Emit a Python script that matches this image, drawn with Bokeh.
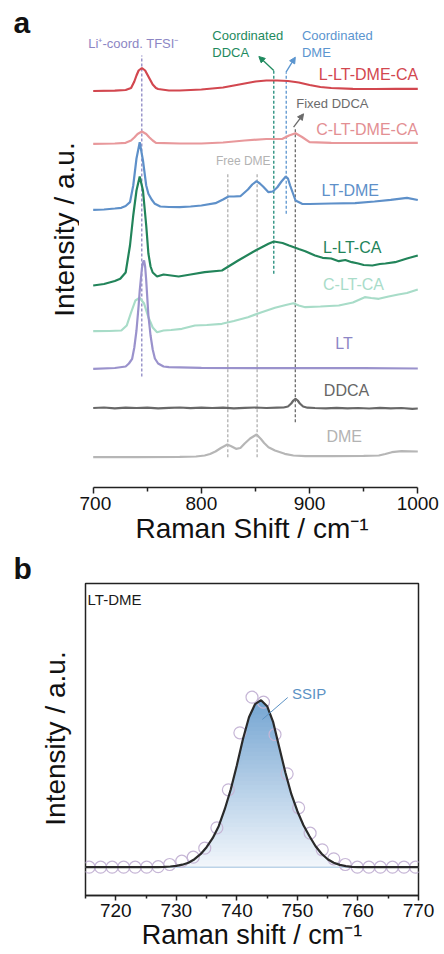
import numpy as np
from bokeh.plotting import figure
from bokeh.models import Range1d, FixedTicker, Label, Arrow, NormalHead, ColumnDataSource
from bokeh.layouts import column, row
from bokeh.core.properties import value
from bokeh.embed import file_html
from bokeh.resources import INLINE

FONT = "Liberation Sans"

# ---------------- panel a : Raman spectra (intensity, a.u.) ----------------
red_x = [700, 720, 730, 735, 738, 740, 742, 745, 748, 750, 753, 755, 758, 760, 770, 780, 800, 820, 840, 850,
         860, 870, 880, 890, 900, 910, 920, 940, 960, 980, 1000]
red_y = [0, 0.3, 1, 3, 9.5, 15.5, 20.5, 23, 20.5, 16.5, 10.5, 6.5, 3, 2, 0.5, 0.5, 1.5, 3.5, 7.5, 9.5,
         10.5, 10.5, 10, 8.5, 6, 4, 3, 2.2, 2, 2.2, 2.2]

pink_x = [700, 720, 730, 735, 738, 741, 745, 749, 752, 755, 758, 780, 800, 820, 840, 860, 875, 881, 887, 893,
          900, 920, 950, 1000]
pink_y = [0, 0.3, 1, 3.3, 6.3, 9.8, 12.3, 9.8, 6.3, 3.3, 1, 0.3, 0.3, 1.3, 3.3, 4.8, 5, 8.3, 10.6, 6.8,
          1.6, 1, 0.8, 1]

blue_x = [700, 710, 720, 726, 730, 734, 737, 740, 743, 746, 749, 751, 754, 757, 762, 770, 780, 790, 800, 813,
          820, 825, 830, 836, 843, 847, 851, 854, 857, 862, 866, 870, 874, 878, 880, 882, 885, 887, 893, 900,
          920, 942, 960, 975, 990, 1000]
blue_y = [0, 0.3, 1.3, 2, 3.8, 7.6, 24.3, 51.3, 67.6, 49.3, 24.3, 16, 10.3, 6, 3.3, 2.8, 2.6, 3.3, 4.3, 6.6,
          10.3, 13.3, 13.3, 13.6, 20.3, 25.3, 28.6, 26.3, 23.3, 17.6, 18.3, 22.3, 28.3, 33.3, 31.3, 24.3, 15.3,
          9.3, 6, 5.8, 6.3, 6.6, 8.3, 10, 12, 9.8]

green_x = [700, 710, 715, 720, 725, 730, 734, 737, 740, 743, 746, 749, 751, 753, 755, 759, 765, 772, 779, 790,
           803, 819, 834, 850, 862, 867, 875, 881, 890, 896, 905, 912, 920, 927, 933, 939, 945, 950, 958, 965,
           970, 979, 990, 1000]
green_y = [0, 1.5, 3, 4.5, 6.7, 13, 40, 70, 95, 109, 95, 60, 32, 19, 13, 9, 11, 10, 9, 11,
           13.3, 15, 25, 35, 41.7, 44, 42.5, 40, 36.5, 34.3, 30, 27.7, 27, 24.3, 25.5, 23.3, 22, 20.5, 20, 21.5,
           22, 23.3, 27, 30]

teal_x = [700, 715, 726, 731, 735, 739, 743, 747, 751, 755, 759, 765, 772, 782, 794, 805, 819, 830, 843, 855,
          868, 878, 885, 890, 896, 910, 927, 940, 951, 957, 964, 973, 982, 990, 1000]
teal_y = [0, 0.2, 0.7, 5.7, 18.7, 30.7, 33.4, 27.7, 14, 3.7, -1, 0.7, 1.2, 2.4, 5.7, 6.2, 7.4, 10.2, 14, 18.7,
          23.4, 26.2, 28, 25.7, 24, 24.7, 25.7, 28.7, 34, 33.2, 32.4, 34.7, 36.7, 38.2, 41.7]

lt_x = [700, 720, 730, 733, 736, 738, 740, 742, 743, 745, 746, 747, 748, 749, 751, 753, 755, 757, 760, 765,
        770, 800, 850, 900, 950, 1000]
lt_y = [0, 0.8, 2.3, 5.3, 10, 21.3, 38.3, 63.3, 78.3, 100.3, 106.3, 108.3, 102.3, 88.3, 53.3, 33.3, 19.3, 10.3,
        5.3, 2.3, 1.6, 1, 0.6, 0.6, 0.6, 0.3]

ddca_x = [700, 710, 720, 730, 740, 750, 760, 770, 780, 790, 800, 810, 820, 830, 840, 850, 860, 870, 876, 880,
          883, 885, 887, 889, 891, 894, 898, 905, 915, 925, 935, 945, 955, 965, 975, 985, 995, 1000]
ddca_y = [0, 0.5, -0.3, 0.4, 0, 0.3, -0.4, 0.2, 0.5, -0.2, 0.3, 0, 0.4, -0.3, 0.2, 0.5, 0, 0.3, 0.5, 1.5,
          4.5, 7.5, 9.2, 7.5, 4.5, 1.5, 0.3, 0, -0.4, 0.2, -0.3, 0, -0.5, 0.2, -0.3, 0, -0.8, -0.5]

dme_x = [700, 740, 780, 795, 803, 808, 813, 818, 824, 828, 832, 836, 840, 845, 851, 855, 858, 862, 868, 877,
         885, 896, 920, 950, 964, 970, 976, 985, 1000]
dme_y = [0, 0, 0.4, 0.7, 1.7, 3.2, 5.7, 9.2, 12.7, 10.7, 8.4, 9.2, 13.7, 18.7, 22.7, 18.2, 14.2, 10, 6.7, 3.4,
         1.7, 1, 1, 1.4, 1.7, 3.2, 5, 6, 5.7]

sample_names = ["L-LT-DME-CA", "C-LT-DME-CA", "LT-DME", "L-LT-CA", "C-LT-CA", "LT", "DDCA", "DME"]
stack_offsets = [396.5, 343.7, 277.7, 202, 156.3, 118.7, 79.5, 30.3]

# peak markers (cm-1) used for dashed guide lines
peak_pos = [744.9, 824.4, 851.5, 886.8, 866.9, 878.4]

# ---------------- panel b : LT-DME fit ----------------
b_exp_x = [715.6, 717.5, 719.4, 721.3, 723.2, 725.1, 727.0, 728.9, 730.9, 732.8, 734.7, 736.7, 738.6, 740.5,
           742.5, 744.4, 746.3, 748.3, 750.2, 752.1, 754.1, 756.0, 757.9, 759.9, 761.8, 763.7, 765.7, 767.6, 769.5]
b_exp_y = [0, 0, 0, 0, 0, 0, 0.5, 2.7, 6, 10, 19, 39.4, 77.4, 134.4,
           170, 165, 132.7, 93.4, 59.4, 34, 17.4, 8.4, 2.7, 0, 0, 0, 0, 0, 0]

b_fit_x = list(range(715, 771))
b_fit_y = [0, 0, 0, 0, 0, 0, 0, 0, 0, 0, 0, 0, 0,          # 715-727
           0.3, 0.7, 1.3, 2.5, 4.5, 8, 13, 20, 29, 41,      # 728-737
           58, 78, 102, 128, 150, 163, 167, 161, 145, 120,  # 738-747
           95, 73, 56, 42, 31, 21, 13.5, 8, 4.5, 2.3,       # 748-757
           1, 0.4, 0.1, 0, 0, 0, 0, 0, 0, 0, 0, 0, 0]       # 758-770

# ---------------- colours ----------------
line_colors = ["#d2474f", "#e8989b", "#5e90c9", "#22845a", "#a8dcc8", "#9a92cc", "#686868", "#b6b6b6"]
label_colors = ["#d2474f", "#e38f93", "#5e90c9", "#22845a", "#a9dcc9", "#8d86c6", "#666666", "#b3b3b3"]


def lab(p, x, y, text, color, size, align="center", style="normal"):
    p.add_layout(Label(x=x, y=y, text=text, text_color=color, text_font=FONT,
                       text_font_size=f"{size}px", text_align=align, text_baseline="middle",
                       text_font_style=style))


def style_xaxis(ax, ticks, minor, title, title_size, tick_out):
    ax.ticker = FixedTicker(ticks=ticks, minor_ticks=minor)
    ax.major_tick_in = 0
    ax.major_tick_out = tick_out
    ax.minor_tick_in = 0
    ax.minor_tick_out = tick_out - 2
    ax.axis_line_width = 1.5
    ax.axis_line_color = "#222222"
    ax.major_tick_line_width = 1.5
    ax.minor_tick_line_width = 1.5
    ax.major_tick_line_color = "#222222"
    ax.minor_tick_line_color = "#222222"
    ax.major_label_text_font = FONT
    ax.major_label_text_font_size = "19px"
    ax.major_label_text_color = "#111111"
    ax.major_label_standoff = 3
    ax.axis_label = title
    ax.axis_label_text_font = FONT
    ax.axis_label_text_font_size = f"{title_size}px"
    ax.axis_label_text_font_style = "normal"
    ax.axis_label_text_color = "#111111"
    ax.axis_label_standoff = 0


# ======================= left strip (panel letters + y titles) =======================
# frame spans 5..932 px, so data y = 954 - page y
sl = figure(width=79, height=954, x_range=Range1d(0, 79), y_range=Range1d(22, 949),
            output_backend="svg", toolbar_location=None, min_border=0,
            min_border_left=0, min_border_right=0, min_border_top=5, min_border_bottom=22)
sl.axis.visible = False
sl.grid.visible = False
sl.outline_line_color = None
sl.text(x=[13, 13], y=[932, 386], text=["a", "b"], text_font=value(FONT), text_font_size="30px",
        text_font_style="bold", text_color="#111111", text_align="left", text_baseline="middle")
sl.text(x=[63.5, 55], y=[725, 216], text=["Intensity / a.u.", "Intensity / a.u."], angle=np.pi / 2,
        text_font=value(FONT), text_font_size="28px", text_color="#111111",
        text_align="center", text_baseline="middle")

# ======================= figure a =======================
p1 = figure(width=365, height=560, x_range=Range1d(692.88, 1000.65), y_range=Range1d(0, 482),
            output_backend="svg", toolbar_location=None,
            min_border_left=6, min_border_right=26, min_border_top=5, min_border_bottom=73)
p1.outline_line_color = None
p1.grid.visible = False
p1.yaxis.visible = False

xs_all = [red_x, pink_x, blue_x, green_x, teal_x, lt_x, ddca_x, dme_x]
ys_all = [red_y, pink_y, blue_y, green_y, teal_y, lt_y, ddca_y, dme_y]

guide = ColumnDataSource(dict(
    x=peak_pos,
    y0=[111, 30.3, 30.3, 65.3, 213.7, 273.7],
    y1=[432, 315.3, 315.3, 360.3, 417, 415.3],
    c=["#8c86c4", "#b0b0b0", "#b0b0b0", "#6b6b6b", "#1d8a78", "#5b95cf"],
))
p1.segment(x0="x", y0="y0", x1="x", y1="y1", source=guide, line_color="c",
           line_width=1.3, line_dash="3 2")

for xs, ys, off, col in zip(xs_all, ys_all, stack_offsets, line_colors):
    p1.line(np.array(xs), np.array(ys) + off, line_color=col, line_width=2.2)

lab(p1, 1000.3, 413, sample_names[0], label_colors[0], 16, "right")
lab(p1, 1000.3, 357.7, sample_names[1], label_colors[1], 16, "right")
lab(p1, 937.6, 297, sample_names[2], label_colors[2], 16)
lab(p1, 939.4, 240.3, sample_names[3], label_colors[3], 16)
lab(p1, 940.6, 203, sample_names[4], label_colors[4], 16)
lab(p1, 931.8, 144.5, sample_names[5], label_colors[5], 16)
lab(p1, 934.1, 97, sample_names[6], label_colors[6], 16)
lab(p1, 932, 51.2, sample_names[7], label_colors[7], 16)

lab(p1, 737.2, 443.7, "Li\u207a-coord. TFSI\u207b", "#8c86c4", 13)
lab(p1, 810.1, 452, "Coordinated", "#1e8a5e", 13, "left")
lab(p1, 810.1, 435.3, "DDCA", "#1e8a5e", 13, "left")
lab(p1, 892.9, 452, "Coordinated", "#5b95cf", 13, "left")
lab(p1, 892.9, 435.3, "DME", "#5b95cf", 13, "left")
lab(p1, 887.7, 384, "Fixed DDCA", "#6b6b6b", 13, "left")
lab(p1, 838.7, 327, "Free DME", "#b3b3b3", 12)

for (xs_, ys_, xe, ye, c) in [(866.9, 417, 853.1, 431, "#1e8a5e"),
                              (878.2, 415.3, 886.8, 430.3, "#5b95cf"),
                              (885.2, 360.3, 894.4, 373.7, "#6b6b6b")]:
    p1.add_layout(Arrow(end=NormalHead(size=6, fill_color=c, line_color=c, line_width=1),
                        x_start=xs_, y_start=ys_, x_end=xe, y_end=ye,
                        line_color=c, line_width=1.3))

style_xaxis(p1.xaxis[0], [700, 800, 900, 1000], [750, 850, 950], "Raman Shift / cm\u207b\u00b9", 28, 6)
p1.xaxis[0].bounds = (700, 1000)

# ======================= figure b =======================
p2 = figure(width=365, height=394, x_range=Range1d(715, 770), y_range=Range1d(-28.3, 283.7),
            output_backend="svg", toolbar_location=None,
            min_border_left=1, min_border_right=21, min_border_top=23, min_border_bottom=59)
p2.grid.visible = False
p2.yaxis.visible = False
p2.outline_line_color = "#222222"
p2.outline_line_width = 1.5

fx = np.array(b_fit_x, dtype=float)
fy = np.array(b_fit_y, dtype=float)
peak = fy.max()
nb = 40
c_lo = np.array([244, 248, 252])
c_hi = np.array([118, 166, 211])
for k in range(nb):
    lo = peak * k / nb
    hi = peak * (k + 1) / nb
    t = (k + 0.5) / nb
    rgb = (c_lo + (c_hi - c_lo) * t).astype(int)
    col = "#%02x%02x%02x" % tuple(rgb)
    p2.varea(x=fx, y1=np.minimum(fy, max(lo - 1.5, 0)), y2=np.minimum(fy, hi),
             fill_color=col, fill_alpha=1.0)

p2.line(fx, np.zeros_like(fx), line_color="#bcd3e8", line_width=1.5)
p2.scatter(b_exp_x, b_exp_y, marker="circle", size=12, fill_color=None,
           line_color="#c6b6d6", line_width=1.2)
p2.line(fx, fy, line_color="#2a2a2a", line_width=2.2)

p2.segment(x0=[744.2], y0=[147.7], x1=[748.4], y1=[169.7], line_color="#5b92c4", line_width=1)
lab(p2, 749.1, 173.7, "SSIP", "#5b92c4", 15, "left")
lab(p2, 715.35, 267.9, "LT-DME", "#1a1a1a", 15, "left")

style_xaxis(p2.xaxis[0], [720, 730, 740, 750, 760, 770], [715, 725, 735, 745, 755, 765],
            "Raman shift / cm\u207b\u00b9", 27, 5)

layout = row(sl, column(p1, p2, spacing=0), spacing=0)
open("out.html", "w").write(file_html(layout, INLINE))
